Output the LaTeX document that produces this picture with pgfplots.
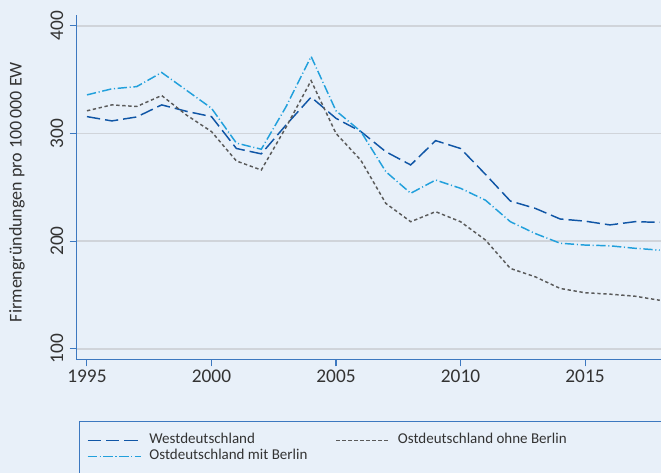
\documentclass[border=0pt]{standalone}
\usepackage{pgfplots}
\pgfplotsset{compat=1.18}
\usepackage{fontspec}
\setmainfont{Carlito}
\definecolor{bgc}{RGB}{232,240,249}
\definecolor{westc}{RGB}{16,86,166}
\definecolor{mitc}{RGB}{33,160,220}
\definecolor{ohnec}{RGB}{90,90,90}
\definecolor{axc}{RGB}{60,120,192}
\definecolor{gridc}{RGB}{208,212,218}
\begin{document}
\begin{tikzpicture}
\path[use as bounding box, fill=bgc] (0pt,0pt) rectangle (495.75pt,354.75pt);
\begin{axis}[
  at={(57.375pt,85.125pt)}, anchor=south west,
  scale only axis, width=438.375pt, height=258.375pt,
  xmin=1994.58, xmax=2018.05, ymin=90, ymax=410,
  axis x line*=bottom, axis y line*=left,
  axis line style={draw=axc, line width=0.9pt, -},
  xtick={1995,2000,2005,2010,2015},
  ytick={100,200,300,400},
  tick align=outside,
  major tick length=5.25pt,
  tick style={draw=axc, line width=0.8pt},
  ymajorgrids,
  grid style={draw=gridc, line width=1.2pt},
  /pgf/number format/1000 sep={},
  /pgf/number format/assume math mode=true,
  ticklabel style={font=\fontsize{14.5}{16}\selectfont, text=black!80},
  xticklabel style={inner sep=2.2pt},
  yticklabel style={rotate=90, anchor=south, inner sep=4.5pt},
  ylabel={Firmengründungen pro 100\,000 EW},
  ylabel style={at={(axis description cs:-0.1018,0.486)}, anchor=center, rotate=0, font=\fontsize{13.5}{15}\selectfont, text=black!80},
  legend image code/.code={\draw[#1] (0pt,0pt) -- (39.75pt,0pt);},
  legend columns=2,
  legend cell align=left,
  legend style={
    at={(axis description cs:0.01745,-0.211)}, anchor=north west,
    draw=none, fill=none, inner sep=0pt,
    font=\fontsize{11.25}{12}\selectfont, text=black!80,
    nodes={inner sep=0pt, text height=8.3pt, text depth=3.7pt},
    /tikz/column 1/.style={column sep=6pt},
    /tikz/column 2/.style={column sep=21pt},
    /tikz/column 3/.style={column sep=6pt},
  },
]
\addplot[westc, line width=1.1pt, dash pattern=on 10pt off 3.75pt] coordinates {
(1995,315.6) (1996,311.6) (1997,315.3) (1998,326.5) (1999,320.5) (2000,315.6)
(2001,286) (2002,281) (2003,308) (2004,333.7) (2005,314) (2006,301.7)
(2007,283) (2008,270.7) (2009,293.3) (2010,286) (2011,262) (2012,237.2)
(2013,230.4) (2014,220.5) (2015,218.5) (2016,215) (2017,218) (2018,217.4)
};
\addlegendentry{Westdeutschland}
\addplot[ohnec, line width=1.1pt, dash pattern=on 2.5pt off 2pt] coordinates {
(1995,321) (1996,326.5) (1997,325) (1998,335.2) (1999,317) (2000,301.7)
(2001,274.4) (2002,266) (2003,306) (2004,349) (2005,300) (2006,275)
(2007,235) (2008,218) (2009,227.3) (2010,218) (2011,201) (2012,174.6)
(2013,166.8) (2014,156) (2015,152) (2016,150.7) (2017,148.8) (2018,145)
};
\addlegendentry{Ostdeutschland ohne Berlin}
\addplot[mitc, line width=1.1pt, dash pattern=on 7pt off 2pt on 0.8pt off 2pt] coordinates {
(1995,335.8) (1996,341.4) (1997,343.5) (1998,356.6) (1999,340) (2000,323.4)
(2001,291) (2002,285.3) (2003,325) (2004,371.5) (2005,321) (2006,301.7)
(2007,264.5) (2008,244.4) (2009,256.7) (2010,249) (2011,238) (2012,218)
(2013,207) (2014,198) (2015,196.3) (2016,195.6) (2017,193.3) (2018,191.6)
};
\addlegendentry{Ostdeutschland mit Berlin}
\end{axis}
\draw[axc, line width=0.8pt] (59.5pt,38.5pt) rectangle (520pt,-20pt);
\end{tikzpicture}
\end{document}
